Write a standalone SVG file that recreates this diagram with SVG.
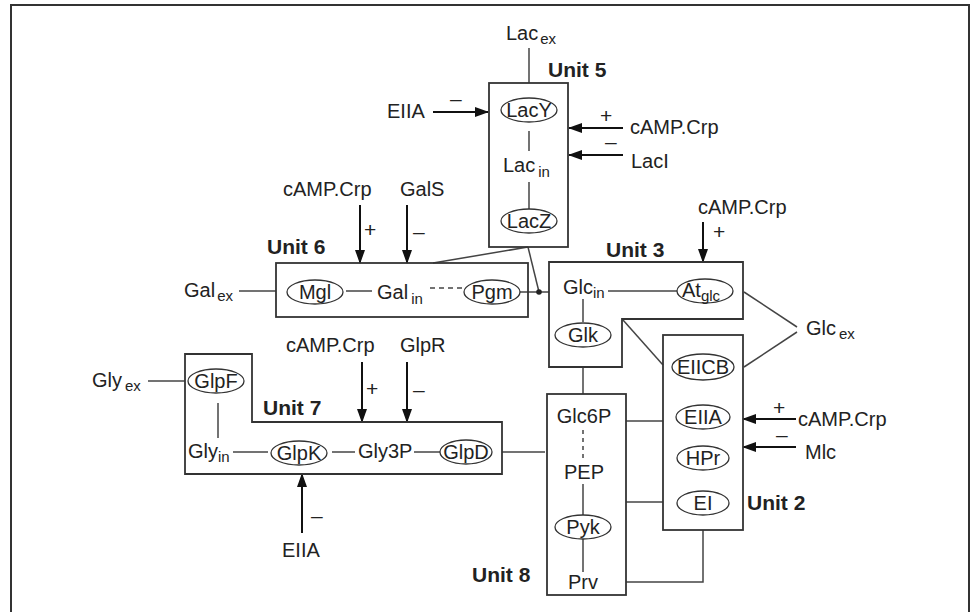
<svg xmlns="http://www.w3.org/2000/svg" width="973" height="612" viewBox="0 0 973 612">
<defs>
<marker id="ah" markerUnits="userSpaceOnUse" markerWidth="14" markerHeight="10" refX="13" refY="5" orient="auto">
<path d="M0,0 L14,5 L0,10 Z" fill="#111"/>
</marker>
<style>
text{font-family:"Liberation Sans",Arial,sans-serif;font-size:20px;fill:#222}
.c{text-anchor:middle}
.s{font-size:15px}
.u{font-weight:bold;font-size:21px}
.sg{font-size:21px}
.box{fill:none;stroke:#333;stroke-width:1.8}
.el{fill:none;stroke:#333;stroke-width:1.3}
.ln{fill:none;stroke:#444;stroke-width:1.5}
.ar{fill:none;stroke:#111;stroke-width:2;marker-end:url(#ah)}
.dash{stroke-dasharray:5,4}
</style>
</defs>
<rect width="973" height="612" fill="#fff"/>
<path d="M11,620 V5 H969 V620" fill="none" stroke="#333" stroke-width="2"/>

<g id="connectors">
<line class="ln" x1="529" y1="48" x2="529" y2="83"/>
<line class="ln" x1="529" y1="131" x2="529" y2="151"/>
<line class="ln" x1="529" y1="182" x2="529" y2="209"/>
<line class="ln" x1="528" y1="247" x2="433" y2="263"/>
<line class="ln" x1="528" y1="247" x2="539" y2="292"/>
<line class="ln" x1="239" y1="291" x2="276" y2="291"/>
<line class="ln" x1="346" y1="291" x2="372" y2="291"/>
<line class="ln dash" x1="430" y1="288" x2="462" y2="288"/>
<line class="ln" x1="520" y1="292" x2="549" y2="292"/>
<circle cx="539" cy="292" r="2.8" fill="#222"/>
<line class="ln" x1="608" y1="291" x2="677" y2="291"/>
<line class="ln" x1="583" y1="299" x2="583" y2="322"/>
<line class="ln" x1="797" y1="327" x2="744" y2="292"/>
<line class="ln" x1="797" y1="332" x2="744" y2="367"/>
<line class="ln" x1="623" y1="320" x2="663" y2="365"/>
<line class="ln" x1="583" y1="367" x2="583" y2="394"/>
<line class="ln" x1="583" y1="430" x2="583" y2="458" stroke-dasharray="4,4"/>
<line class="ln" x1="583" y1="484" x2="583" y2="515"/>
<line class="ln" x1="583" y1="539" x2="583" y2="572"/>
<line class="ln" x1="626" y1="421" x2="663" y2="421"/>
<line class="ln" x1="626" y1="502" x2="663" y2="502"/>
<polyline class="ln" points="626,582 703,582 703,530"/>
<line class="ln" x1="502" y1="452" x2="545" y2="452"/>
<line class="ln" x1="148" y1="381" x2="185" y2="381"/>
<line class="ln" x1="218" y1="403" x2="218" y2="438"/>
<line class="ln" x1="233" y1="452" x2="268" y2="452"/>
<line class="ln" x1="332" y1="452" x2="355" y2="452"/>
<line class="ln" x1="414" y1="452" x2="440" y2="452"/>
<line class="ar" x1="433" y1="112" x2="488" y2="112"/>
<line class="ar" x1="623" y1="128" x2="569" y2="128"/>
<line class="ar" x1="623" y1="155" x2="569" y2="155"/>
<line class="ar" x1="360" y1="205" x2="360" y2="263"/>
<line class="ar" x1="407" y1="205" x2="407" y2="263"/>
<line class="ar" x1="703" y1="222" x2="703" y2="262"/>
<line class="ar" x1="796" y1="419" x2="743" y2="419"/>
<line class="ar" x1="796" y1="447" x2="743" y2="447"/>
<line class="ar" x1="362" y1="362" x2="362" y2="422"/>
<line class="ar" x1="407" y1="362" x2="407" y2="422"/>
<line class="ar" x1="302" y1="533" x2="302" y2="474"/>
<text class="sg" x="450" y="106">–</text>
<text class="sg" x="600" y="123">+</text>
<text class="sg" x="605" y="149">–</text>
<text class="sg" x="364" y="237">+</text>
<text class="sg" x="413" y="239">–</text>
<text class="sg" x="713" y="239">+</text>
<text class="sg" x="773" y="415">+</text>
<text class="sg" x="776" y="442">–</text>
<text class="sg" x="366" y="396">+</text>
<text class="sg" x="413" y="397">–</text>
<text class="sg" x="311" y="523">–</text>
</g>

<g id="lac_ex"><text x="506" y="40">Lac<tspan class="s" dx="2" dy="4">ex</tspan></text></g>
<g id="unit5">
<rect class="box" x="489" y="83" width="79" height="164"/>
<text class="u" x="548" y="77">Unit 5</text>
<ellipse class="el" cx="529" cy="110" rx="28" ry="12"/>
<text class="c" x="529" y="117">LacY</text>
<text x="503" y="172">Lac<tspan class="s" dx="3" dy="5">in</tspan></text>
<ellipse class="el" cx="529" cy="221" rx="28" ry="12"/>
<text class="c" x="529" y="228">LacZ</text>
</g>
<g id="eiia_5"><text x="387" y="118">EIIA</text></g>
<g id="camp_5"><text x="630" y="134">cAMP.Crp</text></g>
<g id="laci"><text x="631" y="168">LacI</text></g>

<g id="camp_6"><text x="283" y="196">cAMP.Crp</text></g>
<g id="gals"><text x="400" y="196">GalS</text></g>
<g id="gal_ex"><text x="184" y="297">Gal<tspan class="s" dx="2" dy="4">ex</tspan></text></g>
<g id="unit6">
<rect class="box" x="276" y="263" width="252" height="54"/>
<text class="u" x="267" y="254">Unit 6</text>
<ellipse class="el" cx="315" cy="292" rx="28" ry="12"/>
<text class="c" x="315" y="299">Mgl</text>
<text x="377" y="299">Gal<tspan class="s" dx="3" dy="5">in</tspan></text>
<ellipse class="el" cx="492" cy="292" rx="28" ry="12"/>
<text class="c" x="492" y="299">Pgm</text>
</g>

<g id="camp_3"><text x="698" y="214">cAMP.Crp</text></g>
<g id="unit3">
<path class="box" d="M549,262 H743 V319 H622 V367 H549 Z"/>
<text class="u" x="606" y="257">Unit 3</text>
<text x="563" y="294">Glc<tspan class="s" dy="4">in</tspan></text>
<ellipse class="el" cx="705" cy="291" rx="28" ry="12"/>
<text x="682" y="297">At<tspan class="s" dy="4">glc</tspan></text>
<ellipse class="el" cx="583" cy="335" rx="28" ry="12"/>
<text class="c" x="583" y="342">Glk</text>
</g>
<g id="glc_ex"><text x="806" y="335">Glc<tspan class="s" dx="3" dy="4">ex</tspan></text></g>

<g id="unit2">
<rect class="box" x="663" y="335" width="80" height="195"/>
<text class="u" x="747" y="510">Unit 2</text>
<ellipse class="el" cx="703" cy="367" rx="31" ry="13"/>
<text class="c" x="703" y="374">EIICB</text>
<ellipse class="el" cx="703" cy="417" rx="27" ry="12"/>
<text class="c" x="703" y="424">EIIA</text>
<ellipse class="el" cx="703" cy="458" rx="26" ry="12"/>
<text class="c" x="703" y="465">HPr</text>
<ellipse class="el" cx="703" cy="503" rx="26" ry="12"/>
<text class="c" x="703" y="510">EI</text>
</g>
<g id="camp_2"><text x="798" y="426">cAMP.Crp</text></g>
<g id="mlc"><text x="805" y="459">Mlc</text></g>

<g id="unit8">
<rect class="box" x="547" y="394" width="79" height="201"/>
<text class="u" x="472" y="582">Unit 8</text>
<text class="c" x="584" y="423">Glc6P</text>
<text class="c" x="584" y="479">PEP</text>
<ellipse class="el" cx="583" cy="527" rx="28" ry="12"/>
<text class="c" x="583" y="534">Pyk</text>
<text class="c" x="583" y="589">Prv</text>
</g>

<g id="camp_7"><text x="286" y="352">cAMP.Crp</text></g>
<g id="glpr"><text x="400" y="352">GlpR</text></g>
<g id="gly_ex"><text x="92" y="387">Gly<tspan class="s" dx="3" dy="4">ex</tspan></text></g>
<g id="unit7">
<path class="box" d="M185,354 H252 V422 H502 V474 H185 Z"/>
<text class="u" x="263" y="415">Unit 7</text>
<ellipse class="el" cx="216" cy="381" rx="28" ry="12"/>
<text class="c" x="216" y="388">GlpF</text>
<text x="188" y="458">Gly<tspan class="s" dy="4">in</tspan></text>
<ellipse class="el" cx="299" cy="453" rx="28" ry="12"/>
<text class="c" x="299" y="460">GlpK</text>
<text x="358" y="458">Gly3P</text>
<ellipse class="el" cx="466" cy="452" rx="26" ry="12"/>
<text class="c" x="466" y="459">GlpD</text>
</g>
<g id="eiia_7"><text x="282" y="557">EIIA</text></g>
</svg>
